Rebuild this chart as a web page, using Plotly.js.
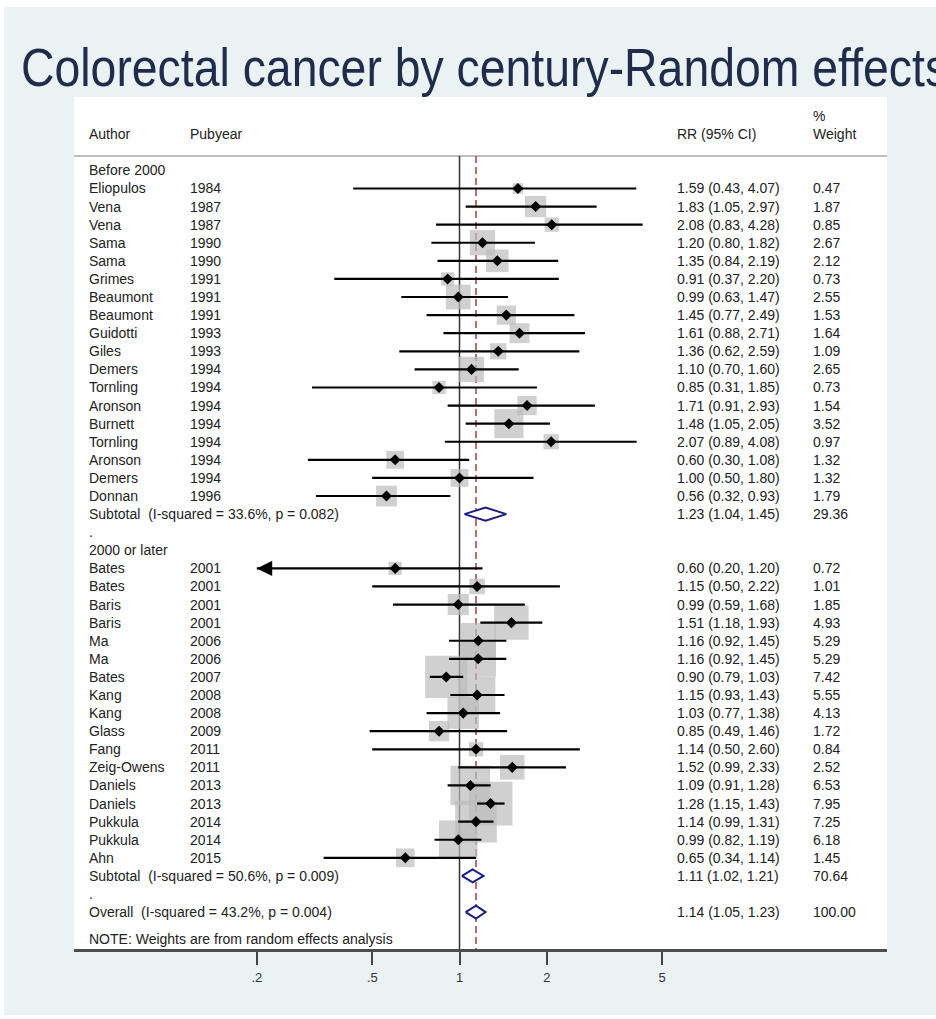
<!DOCTYPE html>
<html>
<head>
<meta charset="utf-8">
<script src="https://cdn.plot.ly/plotly-3.0.1.min.js"></script>
<style>
  html, body { margin: 0; padding: 0; background: #ffffff; }
  #chart { width: 936px; height: 1019px; }
</style>
</head>
<body>
<div id="chart"></div>
<script>
// ---------------- DATA ----------------
const chartTitle = "Colorectal cancer by century-Random effects";

const group1Label = "Before 2000";
const authors1 = ["Eliopulos","Vena","Vena","Sama","Sama","Grimes","Beaumont","Beaumont","Guidotti","Giles","Demers","Tornling","Aronson","Burnett","Tornling","Aronson","Demers","Donnan"];
const years1   = [1984,1987,1987,1990,1990,1991,1991,1991,1993,1993,1994,1994,1994,1994,1994,1994,1994,1996];
const rr1      = [1.59,1.83,2.08,1.20,1.35,0.91,0.99,1.45,1.61,1.36,1.10,0.85,1.71,1.48,2.07,0.60,1.00,0.56];
const lo1      = [0.43,1.05,0.83,0.80,0.84,0.37,0.63,0.77,0.88,0.62,0.70,0.31,0.91,1.05,0.89,0.30,0.50,0.32];
const hi1      = [4.07,2.97,4.28,1.82,2.19,2.20,1.47,2.49,2.71,2.59,1.60,1.85,2.93,2.05,4.08,1.08,1.80,0.93];
const w1       = [0.47,1.87,0.85,2.67,2.12,0.73,2.55,1.53,1.64,1.09,2.65,0.73,1.54,3.52,0.97,1.32,1.32,1.79];
const sub1     = {label: "Subtotal\u00a0 (I-squared = 33.6%, p = 0.082)", rr: 1.23, lo: 1.04, hi: 1.45, w: "29.36"};

const group2Label = "2000 or later";
const authors2 = ["Bates","Bates","Baris","Baris","Ma","Ma","Bates","Kang","Kang","Glass","Fang","Zeig-Owens","Daniels","Daniels","Pukkula","Pukkula","Ahn"];
const years2   = [2001,2001,2001,2001,2006,2006,2007,2008,2008,2009,2011,2011,2013,2013,2014,2014,2015];
const rr2      = [0.60,1.15,0.99,1.51,1.16,1.16,0.90,1.15,1.03,0.85,1.14,1.52,1.09,1.28,1.14,0.99,0.65];
const lo2      = [0.20,0.50,0.59,1.18,0.92,0.92,0.79,0.93,0.77,0.49,0.50,0.99,0.91,1.15,0.99,0.82,0.34];
const hi2      = [1.20,2.22,1.68,1.93,1.45,1.45,1.03,1.43,1.38,1.46,2.60,2.33,1.28,1.43,1.31,1.19,1.14];
const w2       = [0.72,1.01,1.85,4.93,5.29,5.29,7.42,5.55,4.13,1.72,0.84,2.52,6.53,7.95,7.25,6.18,1.45];
const sub2     = {label: "Subtotal\u00a0 (I-squared = 50.6%, p = 0.009)", rr: 1.11, lo: 1.02, hi: 1.21, w: "70.64"};

const overall  = {label: "Overall\u00a0 (I-squared = 43.2%, p = 0.004)", rr: 1.14, lo: 1.05, hi: 1.23, w: "100.00"};
const noteText = "NOTE: Weights are from random effects analysis";

const headAuthor = "Author", headYear = "Pubyear", headRR = "RR (95% CI)", headPct = "%", headWeight = "Weight";
const tickVals = [0.2, 0.5, 1, 2, 5];
const tickText = [".2", ".5", "1", "2", "5"];
const axisMin = 0.2; // studies whose CI goes below the axis minimum get an arrow

// ---------------- LAYOUT CONSTANTS ----------------
const W = 936, H = 1019;
const ML = 74, MR = 49, MT = 97, MB = 70;
const PW = W - ML - MR, PH = H - MT - MB;
const X_RANGE = [-1.3293, 1.4741];
const Y_RANGE = [43.04, -4.057];
const FONT = "Liberation Sans, Arial, Helvetica, sans-serif";
const TXT = "#222222";
const px2x = p => (p - ML) / PW;            // pixel -> paper x
const py2y = p => (H - MB - p) / PH;         // pixel -> paper y
const fmt = v => v.toFixed(2);
const BOX_K = 15.5;

// ---------------- ROWS ----------------
const r1 = authors1.map((_, i) => 1 + i);
const rSub1 = 1 + authors1.length;
const rDot1 = rSub1 + 1;
const rG2 = rDot1 + 1;
const r2 = authors2.map((_, i) => rG2 + 1 + i);
const rSub2 = rG2 + 1 + authors2.length;
const rDot2 = rSub2 + 1;
const rOverall = rDot2 + 1;
const rNote = rOverall + 1.5;
const rHeadLine = -0.796;

const allRR = rr1.concat(rr2), allLo = lo1.concat(lo2), allHi = hi1.concat(hi2), allW = w1.concat(w2);
const allR = r1.concat(r2);

// ---------------- TRACES ----------------
const traces = [];
traces.push({x: [1, 1], y: [rHeadLine, Y_RANGE[0]], mode: "lines",
  line: {color: "#333333", width: 1.5}, hoverinfo: "skip"});
traces.push({x: [overall.rr, overall.rr], y: [rHeadLine, Y_RANGE[0]], mode: "lines",
  line: {color: "#a2403f", width: 1.5, dash: "7px,4px"}, hoverinfo: "skip"});
traces.push({x: allRR, y: allR, mode: "markers",
  marker: {symbol: "square", color: "#bcbcbc", size: allW.map(w => BOX_K * Math.sqrt(w)), line: {width: 0}},
  hoverinfo: "skip"});
const cx = [], cy = [];
allR.forEach((r, i) => { cx.push(allLo[i], allHi[i], null); cy.push(r, r, null); });
traces.push({x: cx, y: cy, mode: "lines", line: {color: "#000000", width: 2.2}, hoverinfo: "skip"});
traces.push({x: allRR, y: allR, mode: "markers",
  marker: {symbol: "diamond", color: "#000000", size: 8.5, line: {width: 0}}, hoverinfo: "skip"});
[[sub1, rSub1], [sub2, rSub2], [overall, rOverall]].forEach(([s, r]) => {
  const h = 0.36;
  traces.push({x: [s.lo, s.rr, s.hi, s.rr, s.lo], y: [r, r - h, r, r + h, r],
    mode: "lines", fill: "toself", fillcolor: "#ffffff",
    line: {color: "#1c1c84", width: 2}, hoverinfo: "skip"});
});

// ---------------- ANNOTATIONS ----------------
const anns = [];
const XA = px2x(87), XY = px2x(188), XRR = px2x(675), XW = px2x(811);
function txt(x, r, text, extra) {
  anns.push(Object.assign({xref: "paper", yref: "y", x: x, y: r, text: text, showarrow: false,
    xanchor: "left", yanchor: "middle", font: {family: FONT, size: 14, color: TXT}}, extra || {}));
}
txt(XA, -2, headAuthor); txt(XY, -2, headYear); txt(XRR, -2, headRR);
txt(XW, -3, headPct); txt(XW, -2, headWeight);
txt(XA, 0, group1Label);
authors1.forEach((a, i) => {
  txt(XA, r1[i], a); txt(XY, r1[i], String(years1[i]));
  txt(XRR, r1[i], fmt(rr1[i]) + " (" + fmt(lo1[i]) + ", " + fmt(hi1[i]) + ")");
  txt(XW, r1[i], fmt(w1[i]));
});
txt(XA, rSub1, sub1.label);
txt(XRR, rSub1, fmt(sub1.rr) + " (" + fmt(sub1.lo) + ", " + fmt(sub1.hi) + ")");
txt(XW, rSub1, sub1.w);
txt(XA, rDot1, ".");
txt(XA, rG2, group2Label);
authors2.forEach((a, i) => {
  txt(XA, r2[i], a); txt(XY, r2[i], String(years2[i]));
  txt(XRR, r2[i], fmt(rr2[i]) + " (" + fmt(lo2[i]) + ", " + fmt(hi2[i]) + ")");
  txt(XW, r2[i], fmt(w2[i]));
});
txt(XA, rSub2, sub2.label);
txt(XRR, rSub2, fmt(sub2.rr) + " (" + fmt(sub2.lo) + ", " + fmt(sub2.hi) + ")");
txt(XW, rSub2, sub2.w);
txt(XA, rDot2, ".");
txt(XA, rOverall, overall.label);
txt(XRR, rOverall, fmt(overall.rr) + " (" + fmt(overall.lo) + ", " + fmt(overall.hi) + ")");
txt(XW, rOverall, overall.w);
txt(XA, rNote, noteText);

allR.forEach((r, i) => {
  if (allLo[i] <= axisMin) {
    anns.push({xref: "x", yref: "y", x: Math.log10(axisMin), y: r, text: "", showarrow: true,
      ax: 16, ay: 0, arrowhead: 2, arrowsize: 1.4, arrowwidth: 2.2, arrowcolor: "#000000", standoff: 0});
  }
});

// title (condensed afterwards via textLength, like the reference's narrow face)
const TITLE_SIZE = 53;
anns.push({xref: "paper", yref: "paper", x: px2x(19), y: py2y(67), xanchor: "left", yanchor: "middle",
  text: chartTitle, showarrow: false,
  font: {family: FONT, size: TITLE_SIZE, color: "#1f2c4c"}});

// ---------------- SHAPES ----------------
const shapes = [
  {type: "rect", xref: "paper", yref: "paper", layer: "below",
   x0: px2x(4), x1: px2x(W + 5), y0: py2y(1015), y1: py2y(7), fillcolor: "#eaf2f3", line: {width: 0}},
  {type: "rect", xref: "paper", yref: "paper", layer: "below",
   x0: 0, x1: 1, y0: 0, y1: 1, fillcolor: "#ffffff", line: {width: 0}},
  {type: "line", xref: "paper", yref: "y", layer: "below",
   x0: 0, x1: 1, y0: rHeadLine, y1: rHeadLine, line: {color: "#a8a8a8", width: 1.5}}
];

const layout = {
  width: W, height: H,
  margin: {l: ML, r: MR, t: MT, b: MB, pad: 0},
  paper_bgcolor: "#ffffff", plot_bgcolor: "#ffffff",
  showlegend: false,
  xaxis: {type: "log", range: X_RANGE, autorange: false, showgrid: false, zeroline: false,
    showline: true, linecolor: "#4d4d4d", linewidth: 3, mirror: false,
    ticks: "outside", ticklen: 13, tickwidth: 2, tickcolor: "#444444",
    tickvals: tickVals, ticktext: tickText, ticklabelstandoff: 1,
    tickfont: {family: FONT, size: 13, color: "#333333"}, fixedrange: true},
  yaxis: {range: Y_RANGE, autorange: false, visible: false, showgrid: false, zeroline: false, fixedrange: true},
  annotations: anns,
  shapes: shapes
};

Plotly.newPlot("chart", traces, layout, {displayModeBar: false, staticPlot: true}).then(gd => {
  // squeeze the title horizontally (narrow title face in the reference), keeping its left edge
  gd.querySelectorAll(".annotation-text").forEach(t => {
    if (t.textContent === chartTitle) {
      const bb = t.getBBox();
      const w0 = t.getComputedTextLength();
      t.setAttribute("text-anchor", "start");
      t.setAttribute("x", String(bb.x));
      t.setAttribute("textLength", String(0.875 * w0));
      t.setAttribute("lengthAdjust", "spacingAndGlyphs");
    }
  });
});
</script>
</body>
</html>
